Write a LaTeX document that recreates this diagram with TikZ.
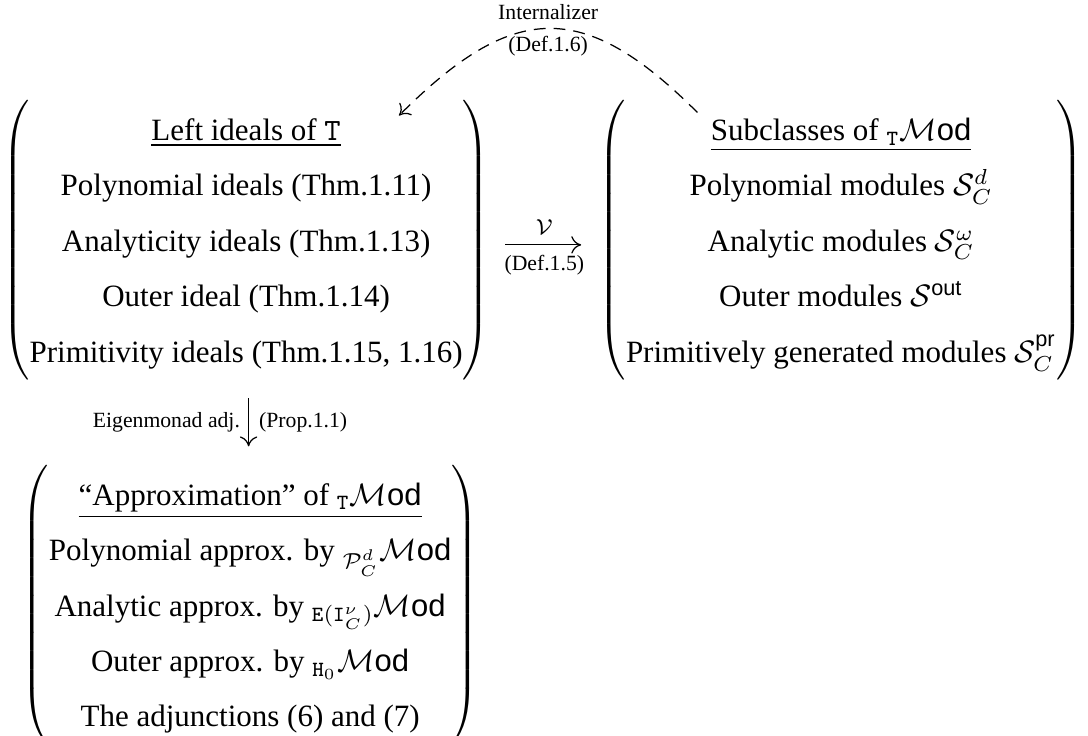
\documentclass[tikz,border=0pt]{standalone}
\usepackage{fontspec}
\setmainfont{Liberation Serif}
\setsansfont{Liberation Sans}
\usetikzlibrary{positioning,arrows.meta}
\tikzset{>={To[length=3.2pt,width=5.6pt]}}
\newcommand*{\md}[1]{{}_{#1}\mathcal{M}\mathsf{od}}
\newcommand*{\bx}[2][0pt]{$\left(\begin{tabular}{@{\hspace{#1}}c@{\hspace{#1}}}#2\end{tabular}\right)$}
\renewcommand{\arraystretch}{1.49}

\begin{document}
\begin{tikzpicture}[inner sep=0pt]
\useasboundingbox (0,0) rectangle (351pt,-237.2pt);
% Draw the three boxes
\node (ideals) at (79.4pt,-77.5pt) {\bx{\underline{Left ideals of $\mathtt{T}$}\\
  Polynomial ideals (Thm.1.11)\\
  Analyticity ideals (Thm.1.13)\\
  Outer ideal (Thm.1.14)\\
  Primitivity ideals (Thm.1.15, 1.16)}};
\node[right=34.8pt of ideals] (modules) {\bx{\underline{Subclasses of $\md{\mathtt{T}}$}\\
  Polynomial modules $\mathcal{S}^d_C$\\
  Analytic modules $\mathcal{S}^{\omega}_C$\\
  Outer modules $\mathcal{S}^{\mathsf{out}}$\\
  Primitively generated modules $\mathcal{S}^{\mathsf{pr}}_C$}};
\node[below=27.3pt of ideals,xshift=1.3pt] (approx) {\bx{\underline{``Approximation'' of $\md{\mathtt{T}}$}\\
  Polynomial approx. by $\md{\mathcal{P}^d_C}$\\
  Analytic approx. by $\md{\mathtt{E}(\mathtt{I}^{\nu}_C)}$\\
  Outer approx. by $\md{\mathtt{H}_0}$\\
  The adjunctions (6) and (7)}};

% Draw V from ideals to modules
\draw[->,shorten <=4.8pt,shorten >=5.5pt] ([yshift=-1.5pt]ideals.east) -- node[above=3.2pt] {$\scriptstyle\mathcal{V}$}
  node[below=3.2pt,font=\scriptsize] {(Def.1.5)} ([yshift=-1.5pt]modules.west);

% Draw eigenmonad adjunction
\draw[->,shorten <=5.8pt,shorten >=6pt] ([xshift=0.8pt]ideals.south) -- node[left=2.6pt,font=\scriptsize] {Eigenmonad adj.}
  node[right=3.2pt,font=\scriptsize] {(Prop.1.1)} ([xshift=0.8pt]ideals.south |- approx.north);

% Draw internalizer back to ideals
\draw[->,dash pattern=on 3.8pt off 2.6pt] ([xshift=32pt,yshift=-4pt]modules.north west)
  to[out=135,in=45,looseness=1.38] node[above=2.6pt,font=\scriptsize] {Internalizer}
  node[below=2.2pt,font=\scriptsize] {(Def.1.6)} ([xshift=-29.5pt,yshift=-5pt]ideals.north east);
\end{tikzpicture}
\end{document}
